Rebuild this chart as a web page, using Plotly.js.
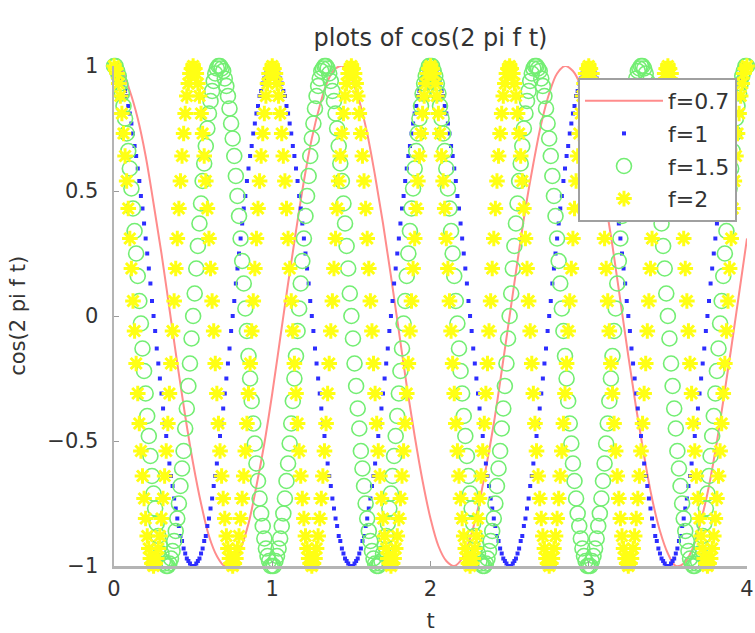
<!DOCTYPE html>
<html>
<head>
<meta charset="utf-8">
<script src="https://cdn.plot.ly/plotly-3.0.1.min.js"></script>
<style>html,body{margin:0;padding:0;background:#fff;}#chart{width:755px;height:633px;}</style>
</head>
<body>
<div id="chart"></div>
<script>
// sample times (step 0.01) used by the marker series
var t = [
0,.01,.02,.03,.04,.05,.06,.07,.08,.09,.1,.11,.12,.13,.14,.15,.16,.17,.18,.19,
.2,.21,.22,.23,.24,.25,.26,.27,.28,.29,.3,.31,.32,.33,.34,.35,.36,.37,.38,.39,
.4,.41,.42,.43,.44,.45,.46,.47,.48,.49,.5,.51,.52,.53,.54,.55,.56,.57,.58,.59,
.6,.61,.62,.63,.64,.65,.66,.67,.68,.69,.7,.71,.72,.73,.74,.75,.76,.77,.78,.79,
.8,.81,.82,.83,.84,.85,.86,.87,.88,.89,.9,.91,.92,.93,.94,.95,.96,.97,.98,.99,
1,1.01,1.02,1.03,1.04,1.05,1.06,1.07,1.08,1.09,1.1,1.11,1.12,1.13,1.14,1.15,1.16,1.17,1.18,1.19,
1.2,1.21,1.22,1.23,1.24,1.25,1.26,1.27,1.28,1.29,1.3,1.31,1.32,1.33,1.34,1.35,1.36,1.37,1.38,1.39,
1.4,1.41,1.42,1.43,1.44,1.45,1.46,1.47,1.48,1.49,1.5,1.51,1.52,1.53,1.54,1.55,1.56,1.57,1.58,1.59,
1.6,1.61,1.62,1.63,1.64,1.65,1.66,1.67,1.68,1.69,1.7,1.71,1.72,1.73,1.74,1.75,1.76,1.77,1.78,1.79,
1.8,1.81,1.82,1.83,1.84,1.85,1.86,1.87,1.88,1.89,1.9,1.91,1.92,1.93,1.94,1.95,1.96,1.97,1.98,1.99,
2,2.01,2.02,2.03,2.04,2.05,2.06,2.07,2.08,2.09,2.1,2.11,2.12,2.13,2.14,2.15,2.16,2.17,2.18,2.19,
2.2,2.21,2.22,2.23,2.24,2.25,2.26,2.27,2.28,2.29,2.3,2.31,2.32,2.33,2.34,2.35,2.36,2.37,2.38,2.39,
2.4,2.41,2.42,2.43,2.44,2.45,2.46,2.47,2.48,2.49,2.5,2.51,2.52,2.53,2.54,2.55,2.56,2.57,2.58,2.59,
2.6,2.61,2.62,2.63,2.64,2.65,2.66,2.67,2.68,2.69,2.7,2.71,2.72,2.73,2.74,2.75,2.76,2.77,2.78,2.79,
2.8,2.81,2.82,2.83,2.84,2.85,2.86,2.87,2.88,2.89,2.9,2.91,2.92,2.93,2.94,2.95,2.96,2.97,2.98,2.99,
3,3.01,3.02,3.03,3.04,3.05,3.06,3.07,3.08,3.09,3.1,3.11,3.12,3.13,3.14,3.15,3.16,3.17,3.18,3.19,
3.2,3.21,3.22,3.23,3.24,3.25,3.26,3.27,3.28,3.29,3.3,3.31,3.32,3.33,3.34,3.35,3.36,3.37,3.38,3.39,
3.4,3.41,3.42,3.43,3.44,3.45,3.46,3.47,3.48,3.49,3.5,3.51,3.52,3.53,3.54,3.55,3.56,3.57,3.58,3.59,
3.6,3.61,3.62,3.63,3.64,3.65,3.66,3.67,3.68,3.69,3.7,3.71,3.72,3.73,3.74,3.75,3.76,3.77,3.78,3.79,
3.8,3.81,3.82,3.83,3.84,3.85,3.86,3.87,3.88,3.89,3.9,3.91,3.92,3.93,3.94,3.95,3.96,3.97,3.98,3.99,
4];

// sample times for the red line (step 0.05)
var tLine = [
0,.05,.1,.15,.2,.25,.3,.35,.4,.45,.5,.55,.6,.65,.7,.75,.8,.85,.9,.95,
1,1.05,1.1,1.15,1.2,1.25,1.3,1.35,1.4,1.45,1.5,1.55,1.6,1.65,1.7,1.75,1.8,1.85,1.9,1.95,
2,2.05,2.1,2.15,2.2,2.25,2.3,2.35,2.4,2.45,2.5,2.55,2.6,2.65,2.7,2.75,2.8,2.85,2.9,2.95,
3,3.05,3.1,3.15,3.2,3.25,3.3,3.35,3.4,3.45,3.5,3.55,3.6,3.65,3.7,3.75,3.8,3.85,3.9,3.95,
4];

// f = 0.7
var y07 = [
1,.98,.9,.79,.64,.45,.25,.03,-.19,-.4,
-.59,-.75,-.88,-.96,-1,-.99,-.93,-.83,-.68,-.51,
-.31,-.09,.13,.34,.54,.71,.84,.94,.99,1,
.95,.86,.73,.56,.37,.16,-.06,-.28,-.48,-.66,
-.81,-.92,-.98,-1,-.97,-.89,-.77,-.61,-.43,-.22,
0,.22,.43,.61,.77,.89,.97,1,.98,.92,
.81,.66,.48,.28,.06,-.16,-.37,-.56,-.73,-.86,
-.95,-1,-.99,-.94,-.84,-.71,-.54,-.34,-.13,.09,
.31];

// f = 1
var y1 = [
1,1,.99,.98,.97,.95,.93,.9,.88,.84,.81,.77,.73,.68,.64,.59,.54,.48,.43,.37,
.31,.25,.19,.13,.06,0,-.06,-.13,-.19,-.25,-.31,-.37,-.43,-.48,-.54,-.59,-.64,-.68,-.73,-.77,
-.81,-.84,-.88,-.9,-.93,-.95,-.97,-.98,-.99,-1,-1,-1,-.99,-.98,-.97,-.95,-.93,-.9,-.88,-.84,
-.81,-.77,-.73,-.68,-.64,-.59,-.54,-.48,-.43,-.37,-.31,-.25,-.19,-.13,-.06,0,.06,.13,.19,.25,
.31,.37,.43,.48,.54,.59,.64,.68,.73,.77,.81,.84,.88,.9,.93,.95,.97,.98,.99,1,
1,1,.99,.98,.97,.95,.93,.9,.88,.84,.81,.77,.73,.68,.64,.59,.54,.48,.43,.37,
.31,.25,.19,.13,.06,0,-.06,-.13,-.19,-.25,-.31,-.37,-.43,-.48,-.54,-.59,-.64,-.68,-.73,-.77,
-.81,-.84,-.88,-.9,-.93,-.95,-.97,-.98,-.99,-1,-1,-1,-.99,-.98,-.97,-.95,-.93,-.9,-.88,-.84,
-.81,-.77,-.73,-.68,-.64,-.59,-.54,-.48,-.43,-.37,-.31,-.25,-.19,-.13,-.06,0,.06,.13,.19,.25,
.31,.37,.43,.48,.54,.59,.64,.68,.73,.77,.81,.84,.88,.9,.93,.95,.97,.98,.99,1,
1,1,.99,.98,.97,.95,.93,.9,.88,.84,.81,.77,.73,.68,.64,.59,.54,.48,.43,.37,
.31,.25,.19,.13,.06,0,-.06,-.13,-.19,-.25,-.31,-.37,-.43,-.48,-.54,-.59,-.64,-.68,-.73,-.77,
-.81,-.84,-.88,-.9,-.93,-.95,-.97,-.98,-.99,-1,-1,-1,-.99,-.98,-.97,-.95,-.93,-.9,-.88,-.84,
-.81,-.77,-.73,-.68,-.64,-.59,-.54,-.48,-.43,-.37,-.31,-.25,-.19,-.13,-.06,0,.06,.13,.19,.25,
.31,.37,.43,.48,.54,.59,.64,.68,.73,.77,.81,.84,.88,.9,.93,.95,.97,.98,.99,1,
1,1,.99,.98,.97,.95,.93,.9,.88,.84,.81,.77,.73,.68,.64,.59,.54,.48,.43,.37,
.31,.25,.19,.13,.06,0,-.06,-.13,-.19,-.25,-.31,-.37,-.43,-.48,-.54,-.59,-.64,-.68,-.73,-.77,
-.81,-.84,-.88,-.9,-.93,-.95,-.97,-.98,-.99,-1,-1,-1,-.99,-.98,-.97,-.95,-.93,-.9,-.88,-.84,
-.81,-.77,-.73,-.68,-.64,-.59,-.54,-.48,-.43,-.37,-.31,-.25,-.19,-.13,-.06,0,.06,.13,.19,.25,
.31,.37,.43,.48,.54,.59,.64,.68,.73,.77,.81,.84,.88,.9,.93,.95,.97,.98,.99,1,
1];

// f = 1.5
var y15 = [
1,1,.98,.96,.93,.89,.84,.79,.73,.66,.59,.51,.43,.34,.25,.16,.06,-.03,-.13,-.22,
-.31,-.4,-.48,-.56,-.64,-.71,-.77,-.83,-.88,-.92,-.95,-.98,-.99,-1,-1,-.99,-.97,-.94,-.9,-.86,
-.81,-.75,-.68,-.61,-.54,-.45,-.37,-.28,-.19,-.09,0,.09,.19,.28,.37,.45,.54,.61,.68,.75,
.81,.86,.9,.94,.97,.99,1,1,.99,.98,.95,.92,.88,.83,.77,.71,.64,.56,.48,.4,
.31,.22,.13,.03,-.06,-.16,-.25,-.34,-.43,-.51,-.59,-.66,-.73,-.79,-.84,-.89,-.93,-.96,-.98,-1,
-1,-1,-.98,-.96,-.93,-.89,-.84,-.79,-.73,-.66,-.59,-.51,-.43,-.34,-.25,-.16,-.06,.03,.13,.22,
.31,.4,.48,.56,.64,.71,.77,.83,.88,.92,.95,.98,.99,1,1,.99,.97,.94,.9,.86,
.81,.75,.68,.61,.54,.45,.37,.28,.19,.09,0,-.09,-.19,-.28,-.37,-.45,-.54,-.61,-.68,-.75,
-.81,-.86,-.9,-.94,-.97,-.99,-1,-1,-.99,-.98,-.95,-.92,-.88,-.83,-.77,-.71,-.64,-.56,-.48,-.4,
-.31,-.22,-.13,-.03,.06,.16,.25,.34,.43,.51,.59,.66,.73,.79,.84,.89,.93,.96,.98,1,
1,1,.98,.96,.93,.89,.84,.79,.73,.66,.59,.51,.43,.34,.25,.16,.06,-.03,-.13,-.22,
-.31,-.4,-.48,-.56,-.64,-.71,-.77,-.83,-.88,-.92,-.95,-.98,-.99,-1,-1,-.99,-.97,-.94,-.9,-.86,
-.81,-.75,-.68,-.61,-.54,-.45,-.37,-.28,-.19,-.09,0,.09,.19,.28,.37,.45,.54,.61,.68,.75,
.81,.86,.9,.94,.97,.99,1,1,.99,.98,.95,.92,.88,.83,.77,.71,.64,.56,.48,.4,
.31,.22,.13,.03,-.06,-.16,-.25,-.34,-.43,-.51,-.59,-.66,-.73,-.79,-.84,-.89,-.93,-.96,-.98,-1,
-1,-1,-.98,-.96,-.93,-.89,-.84,-.79,-.73,-.66,-.59,-.51,-.43,-.34,-.25,-.16,-.06,.03,.13,.22,
.31,.4,.48,.56,.64,.71,.77,.83,.88,.92,.95,.98,.99,1,1,.99,.97,.94,.9,.86,
.81,.75,.68,.61,.54,.45,.37,.28,.19,.09,0,-.09,-.19,-.28,-.37,-.45,-.54,-.61,-.68,-.75,
-.81,-.86,-.9,-.94,-.97,-.99,-1,-1,-.99,-.98,-.95,-.92,-.88,-.83,-.77,-.71,-.64,-.56,-.48,-.4,
-.31,-.22,-.13,-.03,.06,.16,.25,.34,.43,.51,.59,.66,.73,.79,.84,.89,.93,.96,.98,1,
1];

// f = 2
var y2 = [
1,.99,.97,.93,.88,.81,.73,.64,.54,.43,.31,.19,.06,-.06,-.19,-.31,-.43,-.54,-.64,-.73,
-.81,-.88,-.93,-.97,-.99,-1,-.99,-.97,-.93,-.88,-.81,-.73,-.64,-.54,-.43,-.31,-.19,-.06,.06,.19,
.31,.43,.54,.64,.73,.81,.88,.93,.97,.99,
1,.99,.97,.93,.88,.81,.73,.64,.54,.43,.31,.19,.06,-.06,-.19,-.31,-.43,-.54,-.64,-.73,
-.81,-.88,-.93,-.97,-.99,-1,-.99,-.97,-.93,-.88,-.81,-.73,-.64,-.54,-.43,-.31,-.19,-.06,.06,.19,
.31,.43,.54,.64,.73,.81,.88,.93,.97,.99,
1,.99,.97,.93,.88,.81,.73,.64,.54,.43,.31,.19,.06,-.06,-.19,-.31,-.43,-.54,-.64,-.73,
-.81,-.88,-.93,-.97,-.99,-1,-.99,-.97,-.93,-.88,-.81,-.73,-.64,-.54,-.43,-.31,-.19,-.06,.06,.19,
.31,.43,.54,.64,.73,.81,.88,.93,.97,.99,
1,.99,.97,.93,.88,.81,.73,.64,.54,.43,.31,.19,.06,-.06,-.19,-.31,-.43,-.54,-.64,-.73,
-.81,-.88,-.93,-.97,-.99,-1,-.99,-.97,-.93,-.88,-.81,-.73,-.64,-.54,-.43,-.31,-.19,-.06,.06,.19,
.31,.43,.54,.64,.73,.81,.88,.93,.97,.99,
1,.99,.97,.93,.88,.81,.73,.64,.54,.43,.31,.19,.06,-.06,-.19,-.31,-.43,-.54,-.64,-.73,
-.81,-.88,-.93,-.97,-.99,-1,-.99,-.97,-.93,-.88,-.81,-.73,-.64,-.54,-.43,-.31,-.19,-.06,.06,.19,
.31,.43,.54,.64,.73,.81,.88,.93,.97,.99,
1,.99,.97,.93,.88,.81,.73,.64,.54,.43,.31,.19,.06,-.06,-.19,-.31,-.43,-.54,-.64,-.73,
-.81,-.88,-.93,-.97,-.99,-1,-.99,-.97,-.93,-.88,-.81,-.73,-.64,-.54,-.43,-.31,-.19,-.06,.06,.19,
.31,.43,.54,.64,.73,.81,.88,.93,.97,.99,
1,.99,.97,.93,.88,.81,.73,.64,.54,.43,.31,.19,.06,-.06,-.19,-.31,-.43,-.54,-.64,-.73,
-.81,-.88,-.93,-.97,-.99,-1,-.99,-.97,-.93,-.88,-.81,-.73,-.64,-.54,-.43,-.31,-.19,-.06,.06,.19,
.31,.43,.54,.64,.73,.81,.88,.93,.97,.99,
1,.99,.97,.93,.88,.81,.73,.64,.54,.43,.31,.19,.06,-.06,-.19,-.31,-.43,-.54,-.64,-.73,
-.81,-.88,-.93,-.97,-.99,-1,-.99,-.97,-.93,-.88,-.81,-.73,-.64,-.54,-.43,-.31,-.19,-.06,.06,.19,
.31,.43,.54,.64,.73,.81,.88,.93,.97,.99,
1];

var seriesNames = ['f=0.7', 'f=1', 'f=1.5', 'f=2'];
var xTicks = [0, 1, 2, 3, 4];
var yTicks = [-1, -0.5, 0, 0.5, 1];
var titleText = 'plots of cos(2 pi f t)';
var xTitle = 't';
var yTitle = 'cos(2 pi f t)';

var FONT = 'DejaVu Sans, Verdana, sans-serif';
var TXT = '#333333';

var traces = [
  {x: tLine, y: y07, name: seriesNames[0], legendgroup: 'a', type: 'scatter', mode: 'lines',
   line: {color: 'rgb(255,140,140)', width: 2, shape: 'spline'}, cliponaxis: false},
  {x: t, y: y1, name: seriesNames[1], legendgroup: 'b', type: 'scatter', mode: 'markers',
   marker: {symbol: 'square', size: 4, color: 'rgb(45,45,255)'}, cliponaxis: false},
  {x: t, y: y15, name: seriesNames[2], legendgroup: 'c', type: 'scatter', mode: 'markers',
   marker: {symbol: 'circle-open', size: 15, color: 'rgb(115,238,115)', line: {width: 1.6, color: 'rgb(115,238,115)'}}, cliponaxis: false},
  {x: t, y: y2, name: seriesNames[3], legendgroup: 'd', type: 'scatter', mode: 'markers',
   marker: {symbol: 'asterisk-open', size: 13, color: 'rgb(255,255,20)', line: {width: 3, color: 'rgb(255,255,20)'}}, cliponaxis: false}
];

var axisCommon = {
  showline: true, linecolor: '#b4b4b4', linewidth: 2.5, mirror: false,
  ticks: 'inside', ticklen: 5, tickcolor: '#9a9a9a', tickwidth: 1,
  showgrid: false, zeroline: false, fixedrange: true,
  tickfont: {family: FONT, size: 21, color: TXT}
};

var layout = {
  width: 755, height: 633,
  margin: {l: 114, r: 8, t: 66, b: 67, pad: 0},
  paper_bgcolor: '#ffffff', plot_bgcolor: '#ffffff',
  font: {family: FONT, color: TXT},
  title: {text: titleText, font: {family: FONT, size: 24, color: TXT},
          xref: 'paper', x: 0.5, xanchor: 'center', yref: 'container', y: 0.94, yanchor: 'middle'},
  xaxis: Object.assign({}, axisCommon, {range: [0, 4], tickmode: 'array', tickvals: xTicks,
          ticklabelstandoff: 2,
          title: {text: xTitle, font: {family: FONT, size: 21, color: TXT}, standoff: 25}}),
  yaxis: Object.assign({}, axisCommon, {range: [-1, 1], tickmode: 'array', tickvals: yTicks,
          ticklabelstandoff: 9}),
  annotations: [
    {text: yTitle, xref: 'paper', yref: 'paper', x: -0.152, y: 0.5, xanchor: 'center', yanchor: 'middle',
     textangle: -90, showarrow: false, font: {family: FONT, size: 21, color: TXT}}
  ],
  showlegend: true,
  legend: {x: 0.733, y: 0.976, xanchor: 'left', yanchor: 'top', bgcolor: '#ffffff',
           bordercolor: '#a0a0a0', borderwidth: 2, itemwidth: 78, tracegroupgap: 1,
           font: {family: FONT, size: 22, color: TXT}}
};

Plotly.newPlot('chart', traces, layout, {displayModeBar: false, staticPlot: true});
</script>
</body>
</html>
